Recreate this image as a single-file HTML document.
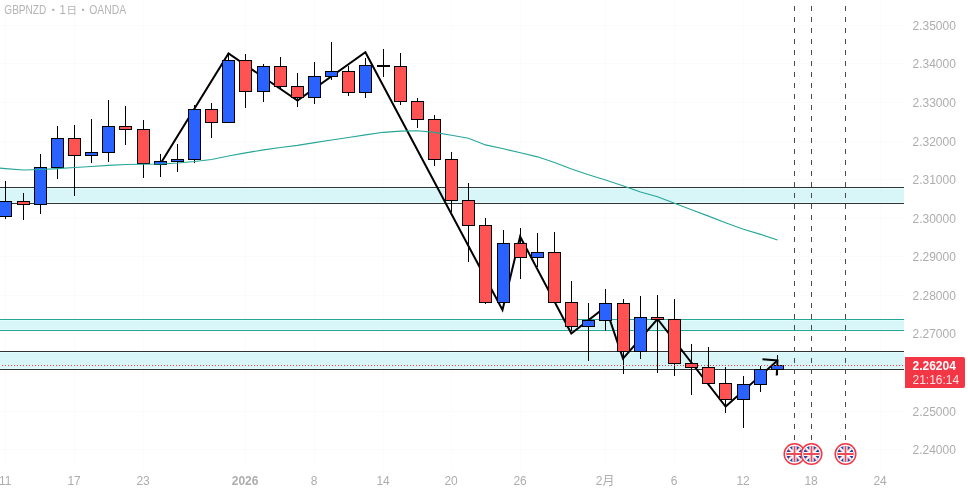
<!DOCTYPE html><html><head><meta charset="utf-8"><style>
html,body{margin:0;padding:0;background:#fff;width:968px;height:491px;overflow:hidden}
svg{display:block;will-change:transform}
text{font-family:"Liberation Sans","Noto Sans CJK JP",sans-serif}
</style></head><body>
<svg width="968" height="491" viewBox="0 0 968 491">
<rect x="0" y="0" width="968" height="491" fill="#ffffff"/>
<g fill="#fbfbfb" shape-rendering="crispEdges">
<rect x="5" y="0" width="1" height="467"/>
<rect x="74" y="0" width="1" height="467"/>
<rect x="143" y="0" width="1" height="467"/>
<rect x="245" y="0" width="1" height="467"/>
<rect x="314" y="0" width="1" height="467"/>
<rect x="383" y="0" width="1" height="467"/>
<rect x="451" y="0" width="1" height="467"/>
<rect x="520" y="0" width="1" height="467"/>
<rect x="605" y="0" width="1" height="467"/>
<rect x="674" y="0" width="1" height="467"/>
<rect x="743" y="0" width="1" height="467"/>
<rect x="811" y="0" width="1" height="467"/>
<rect x="880" y="0" width="1" height="467"/>
<rect x="0" y="25" width="904" height="1"/>
<rect x="0" y="63" width="904" height="1"/>
<rect x="0" y="102" width="904" height="1"/>
<rect x="0" y="141" width="904" height="1"/>
<rect x="0" y="179" width="904" height="1"/>
<rect x="0" y="218" width="904" height="1"/>
<rect x="0" y="256" width="904" height="1"/>
<rect x="0" y="295" width="904" height="1"/>
<rect x="0" y="333" width="904" height="1"/>
<rect x="0" y="372" width="904" height="1"/>
<rect x="0" y="411" width="904" height="1"/>
<rect x="0" y="449" width="904" height="1"/>
</g>
<g shape-rendering="crispEdges">
<rect x="0" y="187" width="904" height="17" fill="#d8f5f8" fill-opacity="1"/>
<rect x="0" y="188" width="904" height="1" fill="#e2fbfd"/>
<rect x="0" y="202" width="904" height="1" fill="#e2fbfd"/>
<rect x="0" y="187" width="904" height="1" fill="#333333"/>
<rect x="0" y="203" width="904" height="1" fill="#333333"/>
<rect x="0" y="319" width="904" height="12" fill="#d8f5f8" fill-opacity="1"/>
<rect x="0" y="320" width="904" height="1" fill="#e2fbfd"/>
<rect x="0" y="329" width="904" height="1" fill="#e2fbfd"/>
<rect x="0" y="319" width="904" height="1" fill="#26a69a"/>
<rect x="0" y="330" width="904" height="1" fill="#26a69a"/>
<rect x="0" y="351" width="904" height="19" fill="#d8f5f8" fill-opacity="1"/>
<rect x="0" y="352" width="904" height="1" fill="#e2fbfd"/>
<rect x="0" y="368" width="904" height="1" fill="#e2fbfd"/>
<rect x="0" y="351" width="904" height="1" fill="#333333"/>
<rect x="0" y="369" width="904" height="1" fill="#333333"/>
</g>
<polyline points="160.3,164 228.5,53.5 297.5,100.6 365.4,52.3 502.5,310 520.1,236.5 571.3,333.5 605.5,307 623,358.6 657.5,319 725.6,406.6 777.5,360.5" fill="none" stroke="#000" stroke-width="2" stroke-linejoin="miter" stroke-miterlimit="10"/>
<polyline points="762.5,359.3 777.5,360.5 776.7,375.5" fill="none" stroke="#000" stroke-width="2" stroke-linejoin="miter"/>
<g shape-rendering="crispEdges">
<rect x="5" y="181" width="1" height="38" fill="#000000"/>
<rect x="-1" y="201" width="13" height="16" fill="#000000"/>
<rect x="0" y="202" width="11" height="14" fill="#2962ff"/>
<rect x="23" y="193" width="1" height="27" fill="#000000"/>
<rect x="17" y="201" width="13" height="4" fill="#000000"/>
<rect x="18" y="202" width="11" height="2" fill="#ff5252"/>
<rect x="40" y="154" width="1" height="60" fill="#000000"/>
<rect x="34" y="167" width="13" height="38" fill="#000000"/>
<rect x="35" y="168" width="11" height="36" fill="#2962ff"/>
<rect x="57" y="126" width="1" height="53" fill="#000000"/>
<rect x="51" y="138" width="13" height="30" fill="#000000"/>
<rect x="52" y="139" width="11" height="28" fill="#2962ff"/>
<rect x="74" y="125" width="1" height="71" fill="#000000"/>
<rect x="68" y="138" width="13" height="18" fill="#000000"/>
<rect x="69" y="139" width="11" height="16" fill="#ff5252"/>
<rect x="91" y="119" width="1" height="44" fill="#000000"/>
<rect x="85" y="152" width="13" height="4" fill="#000000"/>
<rect x="86" y="153" width="11" height="2" fill="#2962ff"/>
<rect x="108" y="100" width="1" height="62" fill="#000000"/>
<rect x="102" y="126" width="13" height="27" fill="#000000"/>
<rect x="103" y="127" width="11" height="25" fill="#2962ff"/>
<rect x="125" y="106" width="1" height="39" fill="#000000"/>
<rect x="119" y="126" width="13" height="4" fill="#000000"/>
<rect x="120" y="127" width="11" height="2" fill="#ff5252"/>
<rect x="143" y="120" width="1" height="58" fill="#000000"/>
<rect x="137" y="129" width="13" height="35" fill="#000000"/>
<rect x="138" y="130" width="11" height="33" fill="#ff5252"/>
<rect x="160" y="154" width="1" height="23" fill="#000000"/>
<rect x="154" y="161" width="13" height="4" fill="#000000"/>
<rect x="155" y="162" width="11" height="2" fill="#2962ff"/>
<rect x="177" y="144" width="1" height="28" fill="#000000"/>
<rect x="171" y="159" width="13" height="3" fill="#000000"/>
<rect x="172" y="160" width="11" height="1" fill="#2962ff"/>
<rect x="194" y="105" width="1" height="58" fill="#000000"/>
<rect x="188" y="109" width="13" height="51" fill="#000000"/>
<rect x="189" y="110" width="11" height="49" fill="#2962ff"/>
<rect x="211" y="103" width="1" height="35" fill="#000000"/>
<rect x="205" y="109" width="13" height="14" fill="#000000"/>
<rect x="206" y="110" width="11" height="12" fill="#ff5252"/>
<rect x="228" y="54" width="1" height="69" fill="#000000"/>
<rect x="222" y="60" width="13" height="63" fill="#000000"/>
<rect x="223" y="61" width="11" height="61" fill="#2962ff"/>
<rect x="245" y="54" width="1" height="54" fill="#000000"/>
<rect x="239" y="60" width="13" height="32" fill="#000000"/>
<rect x="240" y="61" width="11" height="30" fill="#ff5252"/>
<rect x="263" y="64" width="1" height="38" fill="#000000"/>
<rect x="257" y="66" width="13" height="26" fill="#000000"/>
<rect x="258" y="67" width="11" height="24" fill="#2962ff"/>
<rect x="280" y="57" width="1" height="32" fill="#000000"/>
<rect x="274" y="66" width="13" height="21" fill="#000000"/>
<rect x="275" y="67" width="11" height="19" fill="#ff5252"/>
<rect x="297" y="73" width="1" height="34" fill="#000000"/>
<rect x="291" y="86" width="13" height="12" fill="#000000"/>
<rect x="292" y="87" width="11" height="10" fill="#ff5252"/>
<rect x="314" y="62" width="1" height="42" fill="#000000"/>
<rect x="308" y="76" width="13" height="22" fill="#000000"/>
<rect x="309" y="77" width="11" height="20" fill="#2962ff"/>
<rect x="331" y="42" width="1" height="38" fill="#000000"/>
<rect x="325" y="71" width="13" height="6" fill="#000000"/>
<rect x="326" y="72" width="11" height="4" fill="#2962ff"/>
<rect x="348" y="66" width="1" height="30" fill="#000000"/>
<rect x="342" y="71" width="13" height="22" fill="#000000"/>
<rect x="343" y="72" width="11" height="20" fill="#ff5252"/>
<rect x="365" y="58" width="1" height="40" fill="#000000"/>
<rect x="359" y="65" width="13" height="28" fill="#000000"/>
<rect x="360" y="66" width="11" height="26" fill="#2962ff"/>
<rect x="383" y="49" width="1" height="28" fill="#000000"/>
<rect x="377" y="65" width="13" height="2" fill="#000000"/>
<rect x="400" y="53" width="1" height="52" fill="#000000"/>
<rect x="394" y="66" width="13" height="36" fill="#000000"/>
<rect x="395" y="67" width="11" height="34" fill="#ff5252"/>
<rect x="417" y="98" width="1" height="30" fill="#000000"/>
<rect x="411" y="101" width="13" height="19" fill="#000000"/>
<rect x="412" y="102" width="11" height="17" fill="#ff5252"/>
<rect x="434" y="115" width="1" height="51" fill="#000000"/>
<rect x="428" y="119" width="13" height="41" fill="#000000"/>
<rect x="429" y="120" width="11" height="39" fill="#ff5252"/>
<rect x="451" y="152" width="1" height="60" fill="#000000"/>
<rect x="445" y="159" width="13" height="42" fill="#000000"/>
<rect x="446" y="160" width="11" height="40" fill="#ff5252"/>
<rect x="468" y="183" width="1" height="79" fill="#000000"/>
<rect x="462" y="200" width="13" height="26" fill="#000000"/>
<rect x="463" y="201" width="11" height="24" fill="#ff5252"/>
<rect x="485" y="218" width="1" height="86" fill="#000000"/>
<rect x="479" y="225" width="13" height="78" fill="#000000"/>
<rect x="480" y="226" width="11" height="76" fill="#ff5252"/>
<rect x="503" y="230" width="1" height="73" fill="#000000"/>
<rect x="497" y="243" width="13" height="60" fill="#000000"/>
<rect x="498" y="244" width="11" height="58" fill="#2962ff"/>
<rect x="520" y="228" width="1" height="51" fill="#000000"/>
<rect x="514" y="243" width="13" height="15" fill="#000000"/>
<rect x="515" y="244" width="11" height="13" fill="#ff5252"/>
<rect x="537" y="233" width="1" height="34" fill="#000000"/>
<rect x="531" y="252" width="13" height="6" fill="#000000"/>
<rect x="532" y="253" width="11" height="4" fill="#2962ff"/>
<rect x="554" y="232" width="1" height="71" fill="#000000"/>
<rect x="548" y="252" width="13" height="51" fill="#000000"/>
<rect x="549" y="253" width="11" height="49" fill="#ff5252"/>
<rect x="571" y="281" width="1" height="50" fill="#000000"/>
<rect x="565" y="302" width="13" height="25" fill="#000000"/>
<rect x="566" y="303" width="11" height="23" fill="#ff5252"/>
<rect x="588" y="303" width="1" height="58" fill="#000000"/>
<rect x="582" y="320" width="13" height="7" fill="#000000"/>
<rect x="583" y="321" width="11" height="5" fill="#2962ff"/>
<rect x="605" y="289" width="1" height="42" fill="#000000"/>
<rect x="599" y="303" width="13" height="18" fill="#000000"/>
<rect x="600" y="304" width="11" height="16" fill="#2962ff"/>
<rect x="623" y="299" width="1" height="75" fill="#000000"/>
<rect x="617" y="303" width="13" height="49" fill="#000000"/>
<rect x="618" y="304" width="11" height="47" fill="#ff5252"/>
<rect x="640" y="296" width="1" height="63" fill="#000000"/>
<rect x="634" y="317" width="13" height="35" fill="#000000"/>
<rect x="635" y="318" width="11" height="33" fill="#2962ff"/>
<rect x="657" y="295" width="1" height="78" fill="#000000"/>
<rect x="651" y="317" width="13" height="3" fill="#000000"/>
<rect x="652" y="318" width="11" height="1" fill="#ff5252"/>
<rect x="674" y="299" width="1" height="77" fill="#000000"/>
<rect x="668" y="319" width="13" height="45" fill="#000000"/>
<rect x="669" y="320" width="11" height="43" fill="#ff5252"/>
<rect x="691" y="344" width="1" height="51" fill="#000000"/>
<rect x="685" y="363" width="13" height="5" fill="#000000"/>
<rect x="686" y="364" width="11" height="3" fill="#ff5252"/>
<rect x="708" y="347" width="1" height="36" fill="#000000"/>
<rect x="702" y="367" width="13" height="17" fill="#000000"/>
<rect x="703" y="368" width="11" height="15" fill="#ff5252"/>
<rect x="725" y="367" width="1" height="46" fill="#000000"/>
<rect x="719" y="383" width="13" height="17" fill="#000000"/>
<rect x="720" y="384" width="11" height="15" fill="#ff5252"/>
<rect x="743" y="376" width="1" height="52" fill="#000000"/>
<rect x="737" y="384" width="13" height="16" fill="#000000"/>
<rect x="738" y="385" width="11" height="14" fill="#2962ff"/>
<rect x="760" y="366" width="1" height="26" fill="#000000"/>
<rect x="754" y="369" width="13" height="16" fill="#000000"/>
<rect x="755" y="370" width="11" height="14" fill="#2962ff"/>
<rect x="777" y="355" width="1" height="20" fill="#000000"/>
<rect x="771" y="365" width="13" height="5" fill="#000000"/>
<rect x="772" y="366" width="11" height="3" fill="#2962ff"/>
</g>
<polyline points="-11.5,167.00 5.5,168.67 23.5,170.05 40.5,169.45 57.5,168.58 74.5,167.55 91.5,166.57 108.5,165.42 125.5,164.50 143.5,164.30 160.5,163.97 177.5,163.07 194.5,161.52 211.5,159.48 228.5,156.01 245.5,152.90 263.5,149.91 280.5,147.51 297.5,145.39 314.5,142.63 331.5,140.03 348.5,137.47 365.5,134.88 383.5,132.33 400.5,131.16 417.5,130.82 434.5,132.41 451.5,135.17 468.5,138.20 485.5,144.90 503.5,148.75 520.5,152.84 537.5,156.85 554.5,162.47 571.5,168.97 588.5,174.75 605.5,180.05 623.5,186.09 640.5,192.01 657.5,196.69 674.5,203.30 691.5,209.77 708.5,216.14 725.5,222.70 743.5,229.22 760.5,234.36 777.5,240.00" fill="none" stroke="#26a69a" stroke-width="1.1"/>
<g fill="#f23645" shape-rendering="crispEdges">
<rect x="2" y="365" width="1" height="1"/>
<rect x="5" y="365" width="1" height="1"/>
<rect x="8" y="365" width="1" height="1"/>
<rect x="11" y="365" width="1" height="1"/>
<rect x="14" y="365" width="1" height="1"/>
<rect x="17" y="365" width="1" height="1"/>
<rect x="20" y="365" width="1" height="1"/>
<rect x="23" y="365" width="1" height="1"/>
<rect x="26" y="365" width="1" height="1"/>
<rect x="29" y="365" width="1" height="1"/>
<rect x="32" y="365" width="1" height="1"/>
<rect x="35" y="365" width="1" height="1"/>
<rect x="38" y="365" width="1" height="1"/>
<rect x="41" y="365" width="1" height="1"/>
<rect x="44" y="365" width="1" height="1"/>
<rect x="47" y="365" width="1" height="1"/>
<rect x="50" y="365" width="1" height="1"/>
<rect x="53" y="365" width="1" height="1"/>
<rect x="56" y="365" width="1" height="1"/>
<rect x="59" y="365" width="1" height="1"/>
<rect x="62" y="365" width="1" height="1"/>
<rect x="65" y="365" width="1" height="1"/>
<rect x="68" y="365" width="1" height="1"/>
<rect x="71" y="365" width="1" height="1"/>
<rect x="74" y="365" width="1" height="1"/>
<rect x="77" y="365" width="1" height="1"/>
<rect x="80" y="365" width="1" height="1"/>
<rect x="83" y="365" width="1" height="1"/>
<rect x="86" y="365" width="1" height="1"/>
<rect x="89" y="365" width="1" height="1"/>
<rect x="92" y="365" width="1" height="1"/>
<rect x="95" y="365" width="1" height="1"/>
<rect x="98" y="365" width="1" height="1"/>
<rect x="101" y="365" width="1" height="1"/>
<rect x="104" y="365" width="1" height="1"/>
<rect x="107" y="365" width="1" height="1"/>
<rect x="110" y="365" width="1" height="1"/>
<rect x="113" y="365" width="1" height="1"/>
<rect x="116" y="365" width="1" height="1"/>
<rect x="119" y="365" width="1" height="1"/>
<rect x="122" y="365" width="1" height="1"/>
<rect x="125" y="365" width="1" height="1"/>
<rect x="128" y="365" width="1" height="1"/>
<rect x="131" y="365" width="1" height="1"/>
<rect x="134" y="365" width="1" height="1"/>
<rect x="137" y="365" width="1" height="1"/>
<rect x="140" y="365" width="1" height="1"/>
<rect x="143" y="365" width="1" height="1"/>
<rect x="146" y="365" width="1" height="1"/>
<rect x="149" y="365" width="1" height="1"/>
<rect x="152" y="365" width="1" height="1"/>
<rect x="155" y="365" width="1" height="1"/>
<rect x="158" y="365" width="1" height="1"/>
<rect x="161" y="365" width="1" height="1"/>
<rect x="164" y="365" width="1" height="1"/>
<rect x="167" y="365" width="1" height="1"/>
<rect x="170" y="365" width="1" height="1"/>
<rect x="173" y="365" width="1" height="1"/>
<rect x="176" y="365" width="1" height="1"/>
<rect x="179" y="365" width="1" height="1"/>
<rect x="182" y="365" width="1" height="1"/>
<rect x="185" y="365" width="1" height="1"/>
<rect x="188" y="365" width="1" height="1"/>
<rect x="191" y="365" width="1" height="1"/>
<rect x="194" y="365" width="1" height="1"/>
<rect x="197" y="365" width="1" height="1"/>
<rect x="200" y="365" width="1" height="1"/>
<rect x="203" y="365" width="1" height="1"/>
<rect x="206" y="365" width="1" height="1"/>
<rect x="209" y="365" width="1" height="1"/>
<rect x="212" y="365" width="1" height="1"/>
<rect x="215" y="365" width="1" height="1"/>
<rect x="218" y="365" width="1" height="1"/>
<rect x="221" y="365" width="1" height="1"/>
<rect x="224" y="365" width="1" height="1"/>
<rect x="227" y="365" width="1" height="1"/>
<rect x="230" y="365" width="1" height="1"/>
<rect x="233" y="365" width="1" height="1"/>
<rect x="236" y="365" width="1" height="1"/>
<rect x="239" y="365" width="1" height="1"/>
<rect x="242" y="365" width="1" height="1"/>
<rect x="245" y="365" width="1" height="1"/>
<rect x="248" y="365" width="1" height="1"/>
<rect x="251" y="365" width="1" height="1"/>
<rect x="254" y="365" width="1" height="1"/>
<rect x="257" y="365" width="1" height="1"/>
<rect x="260" y="365" width="1" height="1"/>
<rect x="263" y="365" width="1" height="1"/>
<rect x="266" y="365" width="1" height="1"/>
<rect x="269" y="365" width="1" height="1"/>
<rect x="272" y="365" width="1" height="1"/>
<rect x="275" y="365" width="1" height="1"/>
<rect x="278" y="365" width="1" height="1"/>
<rect x="281" y="365" width="1" height="1"/>
<rect x="284" y="365" width="1" height="1"/>
<rect x="287" y="365" width="1" height="1"/>
<rect x="290" y="365" width="1" height="1"/>
<rect x="293" y="365" width="1" height="1"/>
<rect x="296" y="365" width="1" height="1"/>
<rect x="299" y="365" width="1" height="1"/>
<rect x="302" y="365" width="1" height="1"/>
<rect x="305" y="365" width="1" height="1"/>
<rect x="308" y="365" width="1" height="1"/>
<rect x="311" y="365" width="1" height="1"/>
<rect x="314" y="365" width="1" height="1"/>
<rect x="317" y="365" width="1" height="1"/>
<rect x="320" y="365" width="1" height="1"/>
<rect x="323" y="365" width="1" height="1"/>
<rect x="326" y="365" width="1" height="1"/>
<rect x="329" y="365" width="1" height="1"/>
<rect x="332" y="365" width="1" height="1"/>
<rect x="335" y="365" width="1" height="1"/>
<rect x="338" y="365" width="1" height="1"/>
<rect x="341" y="365" width="1" height="1"/>
<rect x="344" y="365" width="1" height="1"/>
<rect x="347" y="365" width="1" height="1"/>
<rect x="350" y="365" width="1" height="1"/>
<rect x="353" y="365" width="1" height="1"/>
<rect x="356" y="365" width="1" height="1"/>
<rect x="359" y="365" width="1" height="1"/>
<rect x="362" y="365" width="1" height="1"/>
<rect x="365" y="365" width="1" height="1"/>
<rect x="368" y="365" width="1" height="1"/>
<rect x="371" y="365" width="1" height="1"/>
<rect x="374" y="365" width="1" height="1"/>
<rect x="377" y="365" width="1" height="1"/>
<rect x="380" y="365" width="1" height="1"/>
<rect x="383" y="365" width="1" height="1"/>
<rect x="386" y="365" width="1" height="1"/>
<rect x="389" y="365" width="1" height="1"/>
<rect x="392" y="365" width="1" height="1"/>
<rect x="395" y="365" width="1" height="1"/>
<rect x="398" y="365" width="1" height="1"/>
<rect x="401" y="365" width="1" height="1"/>
<rect x="404" y="365" width="1" height="1"/>
<rect x="407" y="365" width="1" height="1"/>
<rect x="410" y="365" width="1" height="1"/>
<rect x="413" y="365" width="1" height="1"/>
<rect x="416" y="365" width="1" height="1"/>
<rect x="419" y="365" width="1" height="1"/>
<rect x="422" y="365" width="1" height="1"/>
<rect x="425" y="365" width="1" height="1"/>
<rect x="428" y="365" width="1" height="1"/>
<rect x="431" y="365" width="1" height="1"/>
<rect x="434" y="365" width="1" height="1"/>
<rect x="437" y="365" width="1" height="1"/>
<rect x="440" y="365" width="1" height="1"/>
<rect x="443" y="365" width="1" height="1"/>
<rect x="446" y="365" width="1" height="1"/>
<rect x="449" y="365" width="1" height="1"/>
<rect x="452" y="365" width="1" height="1"/>
<rect x="455" y="365" width="1" height="1"/>
<rect x="458" y="365" width="1" height="1"/>
<rect x="461" y="365" width="1" height="1"/>
<rect x="464" y="365" width="1" height="1"/>
<rect x="467" y="365" width="1" height="1"/>
<rect x="470" y="365" width="1" height="1"/>
<rect x="473" y="365" width="1" height="1"/>
<rect x="476" y="365" width="1" height="1"/>
<rect x="479" y="365" width="1" height="1"/>
<rect x="482" y="365" width="1" height="1"/>
<rect x="485" y="365" width="1" height="1"/>
<rect x="488" y="365" width="1" height="1"/>
<rect x="491" y="365" width="1" height="1"/>
<rect x="494" y="365" width="1" height="1"/>
<rect x="497" y="365" width="1" height="1"/>
<rect x="500" y="365" width="1" height="1"/>
<rect x="503" y="365" width="1" height="1"/>
<rect x="506" y="365" width="1" height="1"/>
<rect x="509" y="365" width="1" height="1"/>
<rect x="512" y="365" width="1" height="1"/>
<rect x="515" y="365" width="1" height="1"/>
<rect x="518" y="365" width="1" height="1"/>
<rect x="521" y="365" width="1" height="1"/>
<rect x="524" y="365" width="1" height="1"/>
<rect x="527" y="365" width="1" height="1"/>
<rect x="530" y="365" width="1" height="1"/>
<rect x="533" y="365" width="1" height="1"/>
<rect x="536" y="365" width="1" height="1"/>
<rect x="539" y="365" width="1" height="1"/>
<rect x="542" y="365" width="1" height="1"/>
<rect x="545" y="365" width="1" height="1"/>
<rect x="548" y="365" width="1" height="1"/>
<rect x="551" y="365" width="1" height="1"/>
<rect x="554" y="365" width="1" height="1"/>
<rect x="557" y="365" width="1" height="1"/>
<rect x="560" y="365" width="1" height="1"/>
<rect x="563" y="365" width="1" height="1"/>
<rect x="566" y="365" width="1" height="1"/>
<rect x="569" y="365" width="1" height="1"/>
<rect x="572" y="365" width="1" height="1"/>
<rect x="575" y="365" width="1" height="1"/>
<rect x="578" y="365" width="1" height="1"/>
<rect x="581" y="365" width="1" height="1"/>
<rect x="584" y="365" width="1" height="1"/>
<rect x="587" y="365" width="1" height="1"/>
<rect x="590" y="365" width="1" height="1"/>
<rect x="593" y="365" width="1" height="1"/>
<rect x="596" y="365" width="1" height="1"/>
<rect x="599" y="365" width="1" height="1"/>
<rect x="602" y="365" width="1" height="1"/>
<rect x="605" y="365" width="1" height="1"/>
<rect x="608" y="365" width="1" height="1"/>
<rect x="611" y="365" width="1" height="1"/>
<rect x="614" y="365" width="1" height="1"/>
<rect x="617" y="365" width="1" height="1"/>
<rect x="620" y="365" width="1" height="1"/>
<rect x="623" y="365" width="1" height="1"/>
<rect x="626" y="365" width="1" height="1"/>
<rect x="629" y="365" width="1" height="1"/>
<rect x="632" y="365" width="1" height="1"/>
<rect x="635" y="365" width="1" height="1"/>
<rect x="638" y="365" width="1" height="1"/>
<rect x="641" y="365" width="1" height="1"/>
<rect x="644" y="365" width="1" height="1"/>
<rect x="647" y="365" width="1" height="1"/>
<rect x="650" y="365" width="1" height="1"/>
<rect x="653" y="365" width="1" height="1"/>
<rect x="656" y="365" width="1" height="1"/>
<rect x="659" y="365" width="1" height="1"/>
<rect x="662" y="365" width="1" height="1"/>
<rect x="665" y="365" width="1" height="1"/>
<rect x="668" y="365" width="1" height="1"/>
<rect x="671" y="365" width="1" height="1"/>
<rect x="674" y="365" width="1" height="1"/>
<rect x="677" y="365" width="1" height="1"/>
<rect x="680" y="365" width="1" height="1"/>
<rect x="683" y="365" width="1" height="1"/>
<rect x="686" y="365" width="1" height="1"/>
<rect x="689" y="365" width="1" height="1"/>
<rect x="692" y="365" width="1" height="1"/>
<rect x="695" y="365" width="1" height="1"/>
<rect x="698" y="365" width="1" height="1"/>
<rect x="701" y="365" width="1" height="1"/>
<rect x="704" y="365" width="1" height="1"/>
<rect x="707" y="365" width="1" height="1"/>
<rect x="710" y="365" width="1" height="1"/>
<rect x="713" y="365" width="1" height="1"/>
<rect x="716" y="365" width="1" height="1"/>
<rect x="719" y="365" width="1" height="1"/>
<rect x="722" y="365" width="1" height="1"/>
<rect x="725" y="365" width="1" height="1"/>
<rect x="728" y="365" width="1" height="1"/>
<rect x="731" y="365" width="1" height="1"/>
<rect x="734" y="365" width="1" height="1"/>
<rect x="737" y="365" width="1" height="1"/>
<rect x="740" y="365" width="1" height="1"/>
<rect x="743" y="365" width="1" height="1"/>
<rect x="746" y="365" width="1" height="1"/>
<rect x="749" y="365" width="1" height="1"/>
<rect x="752" y="365" width="1" height="1"/>
<rect x="755" y="365" width="1" height="1"/>
<rect x="758" y="365" width="1" height="1"/>
<rect x="761" y="365" width="1" height="1"/>
<rect x="764" y="365" width="1" height="1"/>
<rect x="767" y="365" width="1" height="1"/>
<rect x="770" y="365" width="1" height="1"/>
<rect x="773" y="365" width="1" height="1"/>
<rect x="776" y="365" width="1" height="1"/>
<rect x="779" y="365" width="1" height="1"/>
<rect x="782" y="365" width="1" height="1"/>
<rect x="785" y="365" width="1" height="1"/>
<rect x="788" y="365" width="1" height="1"/>
<rect x="791" y="365" width="1" height="1"/>
<rect x="794" y="365" width="1" height="1"/>
<rect x="797" y="365" width="1" height="1"/>
<rect x="800" y="365" width="1" height="1"/>
<rect x="803" y="365" width="1" height="1"/>
<rect x="806" y="365" width="1" height="1"/>
<rect x="809" y="365" width="1" height="1"/>
<rect x="812" y="365" width="1" height="1"/>
<rect x="815" y="365" width="1" height="1"/>
<rect x="818" y="365" width="1" height="1"/>
<rect x="821" y="365" width="1" height="1"/>
<rect x="824" y="365" width="1" height="1"/>
<rect x="827" y="365" width="1" height="1"/>
<rect x="830" y="365" width="1" height="1"/>
<rect x="833" y="365" width="1" height="1"/>
<rect x="836" y="365" width="1" height="1"/>
<rect x="839" y="365" width="1" height="1"/>
<rect x="842" y="365" width="1" height="1"/>
<rect x="845" y="365" width="1" height="1"/>
<rect x="848" y="365" width="1" height="1"/>
<rect x="851" y="365" width="1" height="1"/>
<rect x="854" y="365" width="1" height="1"/>
<rect x="857" y="365" width="1" height="1"/>
<rect x="860" y="365" width="1" height="1"/>
<rect x="863" y="365" width="1" height="1"/>
<rect x="866" y="365" width="1" height="1"/>
<rect x="869" y="365" width="1" height="1"/>
<rect x="872" y="365" width="1" height="1"/>
<rect x="875" y="365" width="1" height="1"/>
<rect x="878" y="365" width="1" height="1"/>
<rect x="881" y="365" width="1" height="1"/>
<rect x="884" y="365" width="1" height="1"/>
<rect x="887" y="365" width="1" height="1"/>
<rect x="890" y="365" width="1" height="1"/>
<rect x="893" y="365" width="1" height="1"/>
<rect x="896" y="365" width="1" height="1"/>
<rect x="899" y="365" width="1" height="1"/>
<rect x="902" y="365" width="1" height="1"/>
</g>
<g fill="#4a4a4a" shape-rendering="crispEdges">
<rect x="794" y="6" width="1" height="5"/>
<rect x="794" y="17" width="1" height="5"/>
<rect x="794" y="28" width="1" height="5"/>
<rect x="794" y="39" width="1" height="5"/>
<rect x="794" y="50" width="1" height="5"/>
<rect x="794" y="61" width="1" height="5"/>
<rect x="794" y="72" width="1" height="5"/>
<rect x="794" y="83" width="1" height="5"/>
<rect x="794" y="94" width="1" height="5"/>
<rect x="794" y="105" width="1" height="5"/>
<rect x="794" y="116" width="1" height="5"/>
<rect x="794" y="127" width="1" height="5"/>
<rect x="794" y="138" width="1" height="5"/>
<rect x="794" y="149" width="1" height="5"/>
<rect x="794" y="160" width="1" height="5"/>
<rect x="794" y="171" width="1" height="5"/>
<rect x="794" y="182" width="1" height="5"/>
<rect x="794" y="193" width="1" height="5"/>
<rect x="794" y="204" width="1" height="5"/>
<rect x="794" y="215" width="1" height="5"/>
<rect x="794" y="226" width="1" height="5"/>
<rect x="794" y="237" width="1" height="5"/>
<rect x="794" y="248" width="1" height="5"/>
<rect x="794" y="259" width="1" height="5"/>
<rect x="794" y="270" width="1" height="5"/>
<rect x="794" y="281" width="1" height="5"/>
<rect x="794" y="292" width="1" height="5"/>
<rect x="794" y="303" width="1" height="5"/>
<rect x="794" y="314" width="1" height="5"/>
<rect x="794" y="325" width="1" height="5"/>
<rect x="794" y="336" width="1" height="5"/>
<rect x="794" y="347" width="1" height="5"/>
<rect x="794" y="358" width="1" height="5"/>
<rect x="794" y="369" width="1" height="5"/>
<rect x="794" y="380" width="1" height="5"/>
<rect x="794" y="391" width="1" height="5"/>
<rect x="794" y="402" width="1" height="5"/>
<rect x="794" y="413" width="1" height="5"/>
<rect x="794" y="424" width="1" height="5"/>
<rect x="794" y="435" width="1" height="5"/>
<rect x="811" y="6" width="1" height="5"/>
<rect x="811" y="17" width="1" height="5"/>
<rect x="811" y="28" width="1" height="5"/>
<rect x="811" y="39" width="1" height="5"/>
<rect x="811" y="50" width="1" height="5"/>
<rect x="811" y="61" width="1" height="5"/>
<rect x="811" y="72" width="1" height="5"/>
<rect x="811" y="83" width="1" height="5"/>
<rect x="811" y="94" width="1" height="5"/>
<rect x="811" y="105" width="1" height="5"/>
<rect x="811" y="116" width="1" height="5"/>
<rect x="811" y="127" width="1" height="5"/>
<rect x="811" y="138" width="1" height="5"/>
<rect x="811" y="149" width="1" height="5"/>
<rect x="811" y="160" width="1" height="5"/>
<rect x="811" y="171" width="1" height="5"/>
<rect x="811" y="182" width="1" height="5"/>
<rect x="811" y="193" width="1" height="5"/>
<rect x="811" y="204" width="1" height="5"/>
<rect x="811" y="215" width="1" height="5"/>
<rect x="811" y="226" width="1" height="5"/>
<rect x="811" y="237" width="1" height="5"/>
<rect x="811" y="248" width="1" height="5"/>
<rect x="811" y="259" width="1" height="5"/>
<rect x="811" y="270" width="1" height="5"/>
<rect x="811" y="281" width="1" height="5"/>
<rect x="811" y="292" width="1" height="5"/>
<rect x="811" y="303" width="1" height="5"/>
<rect x="811" y="314" width="1" height="5"/>
<rect x="811" y="325" width="1" height="5"/>
<rect x="811" y="336" width="1" height="5"/>
<rect x="811" y="347" width="1" height="5"/>
<rect x="811" y="358" width="1" height="5"/>
<rect x="811" y="369" width="1" height="5"/>
<rect x="811" y="380" width="1" height="5"/>
<rect x="811" y="391" width="1" height="5"/>
<rect x="811" y="402" width="1" height="5"/>
<rect x="811" y="413" width="1" height="5"/>
<rect x="811" y="424" width="1" height="5"/>
<rect x="811" y="435" width="1" height="5"/>
<rect x="845" y="6" width="1" height="5"/>
<rect x="845" y="17" width="1" height="5"/>
<rect x="845" y="28" width="1" height="5"/>
<rect x="845" y="39" width="1" height="5"/>
<rect x="845" y="50" width="1" height="5"/>
<rect x="845" y="61" width="1" height="5"/>
<rect x="845" y="72" width="1" height="5"/>
<rect x="845" y="83" width="1" height="5"/>
<rect x="845" y="94" width="1" height="5"/>
<rect x="845" y="105" width="1" height="5"/>
<rect x="845" y="116" width="1" height="5"/>
<rect x="845" y="127" width="1" height="5"/>
<rect x="845" y="138" width="1" height="5"/>
<rect x="845" y="149" width="1" height="5"/>
<rect x="845" y="160" width="1" height="5"/>
<rect x="845" y="171" width="1" height="5"/>
<rect x="845" y="182" width="1" height="5"/>
<rect x="845" y="193" width="1" height="5"/>
<rect x="845" y="204" width="1" height="5"/>
<rect x="845" y="215" width="1" height="5"/>
<rect x="845" y="226" width="1" height="5"/>
<rect x="845" y="237" width="1" height="5"/>
<rect x="845" y="248" width="1" height="5"/>
<rect x="845" y="259" width="1" height="5"/>
<rect x="845" y="270" width="1" height="5"/>
<rect x="845" y="281" width="1" height="5"/>
<rect x="845" y="292" width="1" height="5"/>
<rect x="845" y="303" width="1" height="5"/>
<rect x="845" y="314" width="1" height="5"/>
<rect x="845" y="325" width="1" height="5"/>
<rect x="845" y="336" width="1" height="5"/>
<rect x="845" y="347" width="1" height="5"/>
<rect x="845" y="358" width="1" height="5"/>
<rect x="845" y="369" width="1" height="5"/>
<rect x="845" y="380" width="1" height="5"/>
<rect x="845" y="391" width="1" height="5"/>
<rect x="845" y="402" width="1" height="5"/>
<rect x="845" y="413" width="1" height="5"/>
<rect x="845" y="424" width="1" height="5"/>
<rect x="845" y="435" width="1" height="5"/>
</g>
<g transform="translate(794.5,454)"><circle r="10.3" fill="#fff" stroke="#f23645" stroke-width="1.5"/><clipPath id="cf794"><circle r="8.1"/></clipPath><g clip-path="url(#cf794)"><rect x="-9" y="-9" width="18" height="18" fill="#1c48a8"/><path d="M-9,-9 L9,9 M9,-9 L-9,9" stroke="#fff" stroke-width="2.6"/><path d="M-9,-9 L0,0 M9,9 L0,0" stroke="#ee4b57" stroke-width="0.9" transform="translate(-0.6,0.6)"/><path d="M9,-9 L0,0 M-9,9 L0,0" stroke="#ee4b57" stroke-width="0.9" transform="translate(-0.6,-0.6)"/><path d="M0,-9 V9 M-9,0 H9" stroke="#fff" stroke-width="4.2"/><path d="M0,-9 V9 M-9,0 H9" stroke="#ee4b57" stroke-width="1.8"/></g></g>
<g transform="translate(811.5,454)"><circle r="10.3" fill="#fff" stroke="#f23645" stroke-width="1.5"/><clipPath id="cf811"><circle r="8.1"/></clipPath><g clip-path="url(#cf811)"><rect x="-9" y="-9" width="18" height="18" fill="#1c48a8"/><path d="M-9,-9 L9,9 M9,-9 L-9,9" stroke="#fff" stroke-width="2.6"/><path d="M-9,-9 L0,0 M9,9 L0,0" stroke="#ee4b57" stroke-width="0.9" transform="translate(-0.6,0.6)"/><path d="M9,-9 L0,0 M-9,9 L0,0" stroke="#ee4b57" stroke-width="0.9" transform="translate(-0.6,-0.6)"/><path d="M0,-9 V9 M-9,0 H9" stroke="#fff" stroke-width="4.2"/><path d="M0,-9 V9 M-9,0 H9" stroke="#ee4b57" stroke-width="1.8"/></g></g>
<g transform="translate(845.5,454)"><circle r="10.3" fill="#fff" stroke="#f23645" stroke-width="1.5"/><clipPath id="cf845"><circle r="8.1"/></clipPath><g clip-path="url(#cf845)"><rect x="-9" y="-9" width="18" height="18" fill="#1c48a8"/><path d="M-9,-9 L9,9 M9,-9 L-9,9" stroke="#fff" stroke-width="2.6"/><path d="M-9,-9 L0,0 M9,9 L0,0" stroke="#ee4b57" stroke-width="0.9" transform="translate(-0.6,0.6)"/><path d="M9,-9 L0,0 M-9,9 L0,0" stroke="#ee4b57" stroke-width="0.9" transform="translate(-0.6,-0.6)"/><path d="M0,-9 V9 M-9,0 H9" stroke="#fff" stroke-width="4.2"/><path d="M0,-9 V9 M-9,0 H9" stroke="#ee4b57" stroke-width="1.8"/></g></g>
<g fill="#adadad" font-size="12px">
<text x="912.5" y="29.8">2.35000</text>
<text x="912.5" y="68.4">2.34000</text>
<text x="912.5" y="107.0">2.33000</text>
<text x="912.5" y="145.5">2.32000</text>
<text x="912.5" y="184.1">2.31000</text>
<text x="912.5" y="222.7">2.30000</text>
<text x="912.5" y="261.3">2.29000</text>
<text x="912.5" y="299.9">2.28000</text>
<text x="912.5" y="338.4">2.27000</text>
<text x="912.5" y="415.6">2.25000</text>
<text x="912.5" y="454.2">2.24000</text>
</g>
<path d="M905,357 H963 Q965,357 965,359 V386 Q965,388 963,388 H905 Z" fill="#f23645"/>
<text x="912.5" y="369.6" font-size="12px" fill="#ffffff" font-weight="bold">2.26204</text>
<text x="912.5" y="384" font-size="12px" fill="#ffe0e3">21:16:14</text>
<g fill="#adadad" font-size="12px" text-anchor="middle">
<text x="5.1" y="485">11</text>
<text x="74.1" y="485">17</text>
<text x="143.1" y="485">23</text>
<text x="245.1" y="485" font-weight="bold">2026</text>
<text x="314.1" y="485">8</text>
<text x="383.1" y="485">14</text>
<text x="451.1" y="485">20</text>
<text x="520.1" y="485">26</text>
<text x="605.1" y="485">2月</text>
<text x="674.1" y="485">6</text>
<text x="743.1" y="485">12</text>
<text x="811.1" y="485">18</text>
<text x="880.1" y="485">24</text>
</g>
<g fill="#b4b4b4" font-size="12px">
<text x="4.3" y="13.6" textLength="42" lengthAdjust="spacingAndGlyphs">GBPNZD</text>
<text x="51.2" y="15" font-size="15px" font-weight="bold">·</text>
<text x="59.2" y="13.6">1</text>
<text x="66.6" y="13.9" font-size="10.5px">日</text>
<text x="81.1" y="15" font-size="15px" font-weight="bold">·</text>
<text x="89.3" y="13.6" textLength="36.9" lengthAdjust="spacingAndGlyphs">OANDA</text>
</g>
</svg></body></html>
